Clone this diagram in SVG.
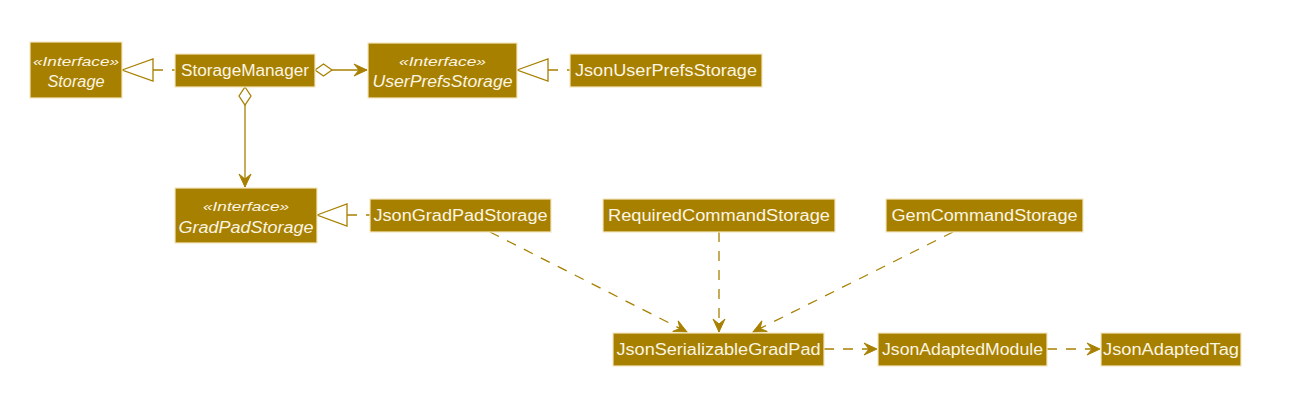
<svg xmlns="http://www.w3.org/2000/svg" width="1299" height="408" viewBox="0 0 1299 408">
<defs>
<style>
.box{fill:#A88000;stroke:#F3E6BE;stroke-width:1.2}
.t{font-family:"Liberation Sans",Arial,sans-serif;font-size:16px;fill:#FBF5E3;text-anchor:middle}
.i{font-style:italic}
.st{font-family:"Liberation Sans",Arial,sans-serif;font-size:13px;font-style:italic;fill:#FBF5E3;text-anchor:middle}
.ln{fill:none;stroke:#A88000;stroke-width:1.3}
.dash{stroke-dasharray:10,9}
.hollow{fill:#FFFFFF;stroke:#A88000;stroke-width:1.3}
</style>
<marker id="arr" viewBox="-15 -8 16 16" refX="0" refY="0" markerWidth="16" markerHeight="16" markerUnits="userSpaceOnUse" orient="auto">
<path d="M0,0 L-13,-6 L-8,0 L-13,6 Z" fill="#A88000" stroke="#A88000" stroke-width="1" stroke-dasharray="none"/>
</marker>
</defs>
<rect width="1299" height="408" fill="#FFFFFF"/>

<g id="connectors">
<!-- StorageManager realizes Storage -->
<path class="ln dash" d="M153,70 L175,70"/>
<polygon class="hollow" points="122,70 153,59 153,81"/>
<!-- JsonUserPrefsStorage realizes UserPrefsStorage -->
<path class="ln dash" d="M548,70 L570,70"/>
<polygon class="hollow" points="517,70 548,59 548,81"/>
<!-- JsonGradPadStorage realizes GradPadStorage -->
<path class="ln dash" d="M347,215 L370,215"/>
<polygon class="hollow" points="317,215 347,204 347,226"/>
<!-- StorageManager aggregation to UserPrefsStorage -->
<path class="ln" d="M332,70 L367,70" marker-end="url(#arr)"/>
<polygon class="hollow" points="315,70 323.5,64 332,70 323.5,76"/>
<!-- StorageManager aggregation to GradPadStorage -->
<path class="ln" d="M245,105 L245,187" marker-end="url(#arr)"/>
<polygon class="hollow" points="245,87 251,96 245,105 239,96"/>
<!-- dependencies -->
<path class="ln dash" d="M490,232 L687,332" marker-end="url(#arr)"/>
<path class="ln dash" d="M719,232 L719,332" marker-end="url(#arr)"/>
<path class="ln dash" d="M953,232 L753,332" marker-end="url(#arr)"/>
<path class="ln dash" d="M824,349 L877,349" marker-end="url(#arr)"/>
<path class="ln dash" d="M1047,349 L1100,349" marker-end="url(#arr)"/>
</g>

<g id="Storage">
<rect class="box" x="30" y="42" width="92" height="56"/>
<text class="st" x="76" y="66" textLength="86" lengthAdjust="spacingAndGlyphs">«Interface»</text>
<text class="t i" x="76" y="87" textLength="57" lengthAdjust="spacingAndGlyphs">Storage</text>
</g>
<g id="StorageManager">
<rect class="box" x="175" y="54" width="140" height="33"/>
<text class="t" x="245" y="76" textLength="128" lengthAdjust="spacingAndGlyphs">StorageManager</text>
</g>
<g id="UserPrefsStorage">
<rect class="box" x="368" y="43" width="149" height="55"/>
<text class="st" x="442.5" y="66" textLength="87" lengthAdjust="spacingAndGlyphs">«Interface»</text>
<text class="t i" x="442.5" y="87" textLength="140" lengthAdjust="spacingAndGlyphs">UserPrefsStorage</text>
</g>
<g id="JsonUserPrefsStorage">
<rect class="box" x="570" y="54" width="192" height="33"/>
<text class="t" x="666" y="76" textLength="182" lengthAdjust="spacingAndGlyphs">JsonUserPrefsStorage</text>
</g>
<g id="GradPadStorage">
<rect class="box" x="175" y="188" width="142" height="55"/>
<text class="st" x="246" y="211" textLength="86" lengthAdjust="spacingAndGlyphs">«Interface»</text>
<text class="t i" x="246" y="233" textLength="135" lengthAdjust="spacingAndGlyphs">GradPadStorage</text>
</g>
<g id="JsonGradPadStorage">
<rect class="box" x="370" y="199" width="181" height="33"/>
<text class="t" x="460.5" y="221" textLength="174" lengthAdjust="spacingAndGlyphs">JsonGradPadStorage</text>
</g>
<g id="RequiredCommandStorage">
<rect class="box" x="603" y="199" width="232" height="33"/>
<text class="t" x="719" y="221" textLength="222" lengthAdjust="spacingAndGlyphs">RequiredCommandStorage</text>
</g>
<g id="GemCommandStorage">
<rect class="box" x="886" y="199" width="197" height="33"/>
<text class="t" x="984.5" y="221" textLength="186" lengthAdjust="spacingAndGlyphs">GemCommandStorage</text>
</g>
<g id="JsonSerializableGradPad">
<rect class="box" x="613" y="333" width="211" height="33"/>
<text class="t" x="718.5" y="355" textLength="204" lengthAdjust="spacingAndGlyphs">JsonSerializableGradPad</text>
</g>
<g id="JsonAdaptedModule">
<rect class="box" x="878" y="333" width="169" height="33"/>
<text class="t" x="962.5" y="355" textLength="161" lengthAdjust="spacingAndGlyphs">JsonAdaptedModule</text>
</g>
<g id="JsonAdaptedTag">
<rect class="box" x="1101" y="333" width="140" height="33"/>
<text class="t" x="1171" y="355" textLength="136" lengthAdjust="spacingAndGlyphs">JsonAdaptedTag</text>
</g>
</svg>
